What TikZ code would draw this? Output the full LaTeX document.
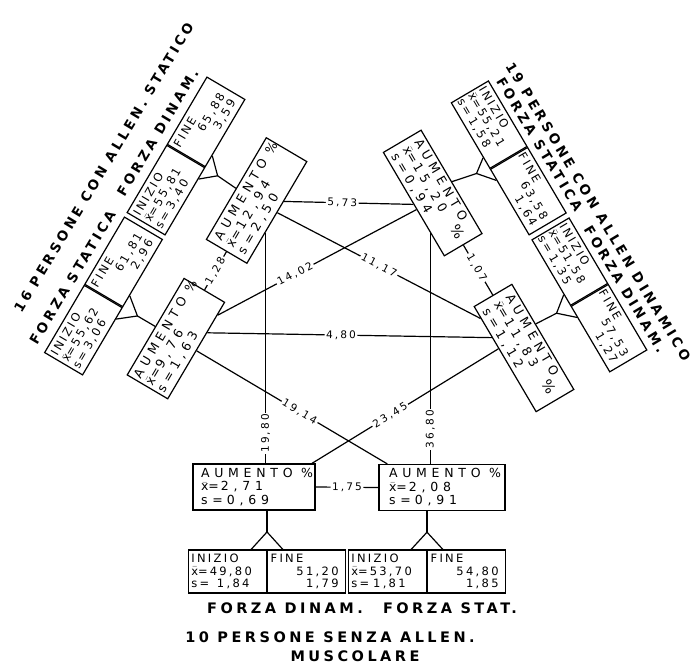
\documentclass[tikz,border=0pt]{standalone}
\usepackage{fontspec}
\newfontfamily\hand[LetterSpace=20]{DejaVu Sans}
\newfontfamily\handw[LetterSpace=38]{DejaVu Sans}
\newfontfamily\handh[LetterSpace=24]{DejaVu Sans}
\usetikzlibrary{calc}
\newcommand\xm{$\bar{\mbox{x}}$=\,}
\newcommand\rv[1]{\makebox[\dimexpr\hsize-4pt\relax][r]{#1}}

\begin{document}
\begin{tikzpicture}[x=1pt,y=-1pt,
    ln/.style={line width=1.2pt},
    cell/.style={draw,line width=1.2pt,minimum width=78pt,minimum height=43pt,inner sep=2pt,
      text width=72pt,align=left,font=\hand\fontsize{11.5}{12.5}\selectfont},
    aum/.style={draw,line width=1.2pt,minimum height=46pt,inner sep=3pt,
      text width=106pt,align=left,font=\handw\fontsize{12.5}{13.5}\selectfont},
    head/.style={inner sep=1pt,font=\handh\bfseries\fontsize{14.5}{17}\selectfont},
    headr/.style={head,font=\handh\bfseries\fontsize{13.5}{16}\selectfont},
    val/.style={fill=white,inner sep=1.5pt,sloped,font=\hand\fontsize{10.5}{12}\selectfont}]
  \useasboundingbox (0,0) rectangle (696,665);

  \node[cell,rotate=59.5,anchor=east,minimum height=44pt] (lsi) at (103.5,296) {INIZIO\\\xm 55,62\\s= 3,06};
  \node[cell,rotate=59.5,anchor=west,minimum height=44pt] (lsf) at (103.5,296) {FINE\\\rv{61,81}\\\rv{2,96}};
  \node[cell,rotate=59.5,anchor=east,minimum height=44pt] (ldi) at (186,156) {INIZIO\\\xm 55,81\\s= 3,40};
  \node[cell,rotate=59.5,anchor=west,minimum height=44pt] (ldf) at (186,156) {FINE\\\rv{65,88}\\\rv{3,59}};
  \node[aum,rotate=59.5,minimum width=112pt,minimum height=47pt] (lla) at (175.9,338.6) {AUMENTO~~\%\\\xm 9,76\\s= 1,63};
  \node[aum,rotate=59.5,minimum width=118pt,minimum height=47pt] (ula) at (256.6,200.5) {AUMENTO~~\%\\\xm 12,94\\s= 2,50};

  \node[cell,rotate=-59.5,anchor=east,minimum width=76pt] (rsi) at (508.75,157.9) {INIZIO\\\xm 55,21\\s= 1,58};
  \node[cell,rotate=-59.5,anchor=west,minimum width=76pt] (rsf) at (508.75,157.9) {FINE\\\rv{63,58}\\\rv{1,64}};
  \node[cell,rotate=-59.5,anchor=east,minimum width=76pt] (rdi) at (589.4,294.9) {INIZIO\\\xm 51,58\\s= 1,35};
  \node[cell,rotate=-59.5,anchor=west,minimum width=76pt] (rdf) at (589.4,294.9) {FINE\\\rv{57,53}\\\rv{1,27}};
  \node[aum,rotate=-59.5,minimum width=120pt,minimum height=42pt] (ura) at (432.7,193) {AUMENTO\\\xm 15,20\hfill{\Large\%}\\s= 0,94};
  \node[aum,rotate=-59.5,minimum width=122pt,minimum height=42pt] (lra) at (524,348) {AUMENTO\\\xm 11,83\hfill{\Large\%}\\s= 1,12};

  \node[aum,minimum width=122pt] (bla) at (254,487) {AUMENTO~~\%\\\xm 2,71\\s= 0,69};
  \node[aum,minimum width=126pt] (bra) at (442,487.5) {AUMENTO~~\%\\\xm 2,08\\s= 0,91};
  \node[cell,anchor=east] (bdi) at (267,571.5) {INIZIO\\\xm 49,80\\s= \ 1,84};
  \node[cell,anchor=west] (bdf) at (267,571.5) {FINE\\\rv{51,20}\\\rv{1,79}};
  \node[cell,anchor=east] (bsi) at (427,571.5) {INIZIO\\\xm 53,70\\s= 1,81};
  \node[cell,anchor=west] (bsf) at (427,571.5) {FINE\\\rv{54,80}\\\rv{1,85}};

  \node[headr,rotate=59] (lout) at (103.8,167.4) {16 PERSONE CON ALLEN. STATICO};
  \node[headr,rotate=59] (lin1) at (72.5,277.6) {FORZA STATICA};
  \node[headr,rotate=59] (lin2) at (157.7,132.9) {FORZA DINAM.};
  \node[headr,rotate=-59] (rout) at (598.3,211.5) {19 PERSONE CON ALLEN DINAMICO};
  \node[headr,rotate=-59] (rin1) at (539.7,144.4) {FORZA STATICA};
  \node[headr,rotate=-59] (rin2) at (624.9,289.2) {FORZA DINAM.};
  \node[head] (bt1) at (285,608) {FORZA DINAM.};
  \node[head] (bt2) at (450,608) {FORZA STAT.};
  \node[head] (bt3) at (330,637) {10 PERSONE SENZA ALLEN.};
  \node[head] (bt4) at (355,656) {MUSCOLARE};

  \coordinate (lsfork) at ($(lsi.south east)!0.45!(lla.north)$);
  \draw[ln] ($(lsi.south)!0.66!(lsi.south east)$) -- (lsfork) -- ($(lsf.south)!0.66!(lsf.south west)$);
  \draw[ln] (lsfork) -- (lla.north);
  \coordinate (ldfork) at ($(ldi.south east)!0.4!(ula.north)$);
  \draw[ln] ($(ldi.south)!0.66!(ldi.south east)$) -- (ldfork) -- ($(ldf.south)!0.66!(ldf.south west)$);
  \draw[ln] (ldfork) -- (ula.north);
  \coordinate (rsfork) at ($(rsi.south east)!0.35!(ura.north)$);
  \draw[ln] ($(rsi.south)!0.66!(rsi.south east)$) -- (rsfork) -- ($(rsf.south)!0.66!(rsf.south west)$);
  \draw[ln] (rsfork) -- (ura.north);
  \coordinate (lratop) at ($(lra.north)!0.24!(lra.north west)$);
  \coordinate (rdfork) at ($(rdi.south east)!0.4!(lratop)$);
  \draw[ln] ($(rdi.south)!0.66!(rdi.south east)$) -- (rdfork) -- ($(rdf.south)!0.66!(rdf.south west)$);
  \draw[ln] (rdfork) -- (lratop);
  \coordinate (bdtop) at (bdi.north east |- bla.south);
  \coordinate (bdfork) at ($(bdi.north east)!0.45!(bdtop)$);
  \draw[ln] ($(bdi.north)!0.6!(bdi.north east)$) -- (bdfork) -- ($(bdf.north)!0.6!(bdf.north west)$);
  \draw[ln] (bdfork) -- (bdtop);
  \coordinate (bstop) at (bsi.north east |- bra.south);
  \coordinate (bsfork) at ($(bsi.north east)!0.45!(bstop)$);
  \draw[ln] ($(bsi.north)!0.6!(bsi.north east)$) -- (bsfork) -- ($(bsf.north)!0.6!(bsf.north west)$);
  \draw[ln] (bsfork) -- (bstop);

  \coordinate (ulfoot) at ($(ula.south)!0.39!(ula.south west)$);
  \coordinate (urfoot) at ($(ura.south)!0.55!(ura.south east)$);
  \draw[ln] (ulfoot |- bla.north) -- (ulfoot) node[val,pos=0.13] {19,80};
  \draw[ln] (urfoot |- bra.north) -- (urfoot) node[val,pos=0.15] {36,80};
  \draw[ln] ($(ula.south)!0.22!(ula.south east)$) -- (ura.south) node[val,pos=0.45] {5,73};
  \draw[ln] ($(lla.south)!0.37!(lla.south east)$) -- ($(lra.south)!0.41!(lra.south west)$) node[val,pos=0.47] {4,80};
  \draw[ln] ($(lla.south)!0.73!(lla.south east)$) -- ($(ura.south)!0.1!(ura.south east)$) node[val,pos=0.39] {14,02};
  \draw[ln] (ula.south) -- ($(lra.south)!0.77!(lra.south west)$) node[val,pos=0.5] {11,17};
  \draw[ln] (lla.south) -- ($(bra.north west)!0.14!(bra.north)$) node[val,pos=0.54] {19,14};
  \draw[ln] ($(bla.north east)!0.06!(bla.north)$) -- ($(lra.south)!0.2!(lra.south west)$) node[val,pos=0.42] {23,45};
  \draw[ln] (lla.east) -- (ula.west) node[val,pos=0.5] {1,28};
  \draw[ln] (ura.east) -- (lra.west) node[val,pos=0.45] {1,07};
  \draw[ln] (bla.east) -- (bra.west) node[val,pos=0.5] {1,75};
\end{tikzpicture}
\end{document}
